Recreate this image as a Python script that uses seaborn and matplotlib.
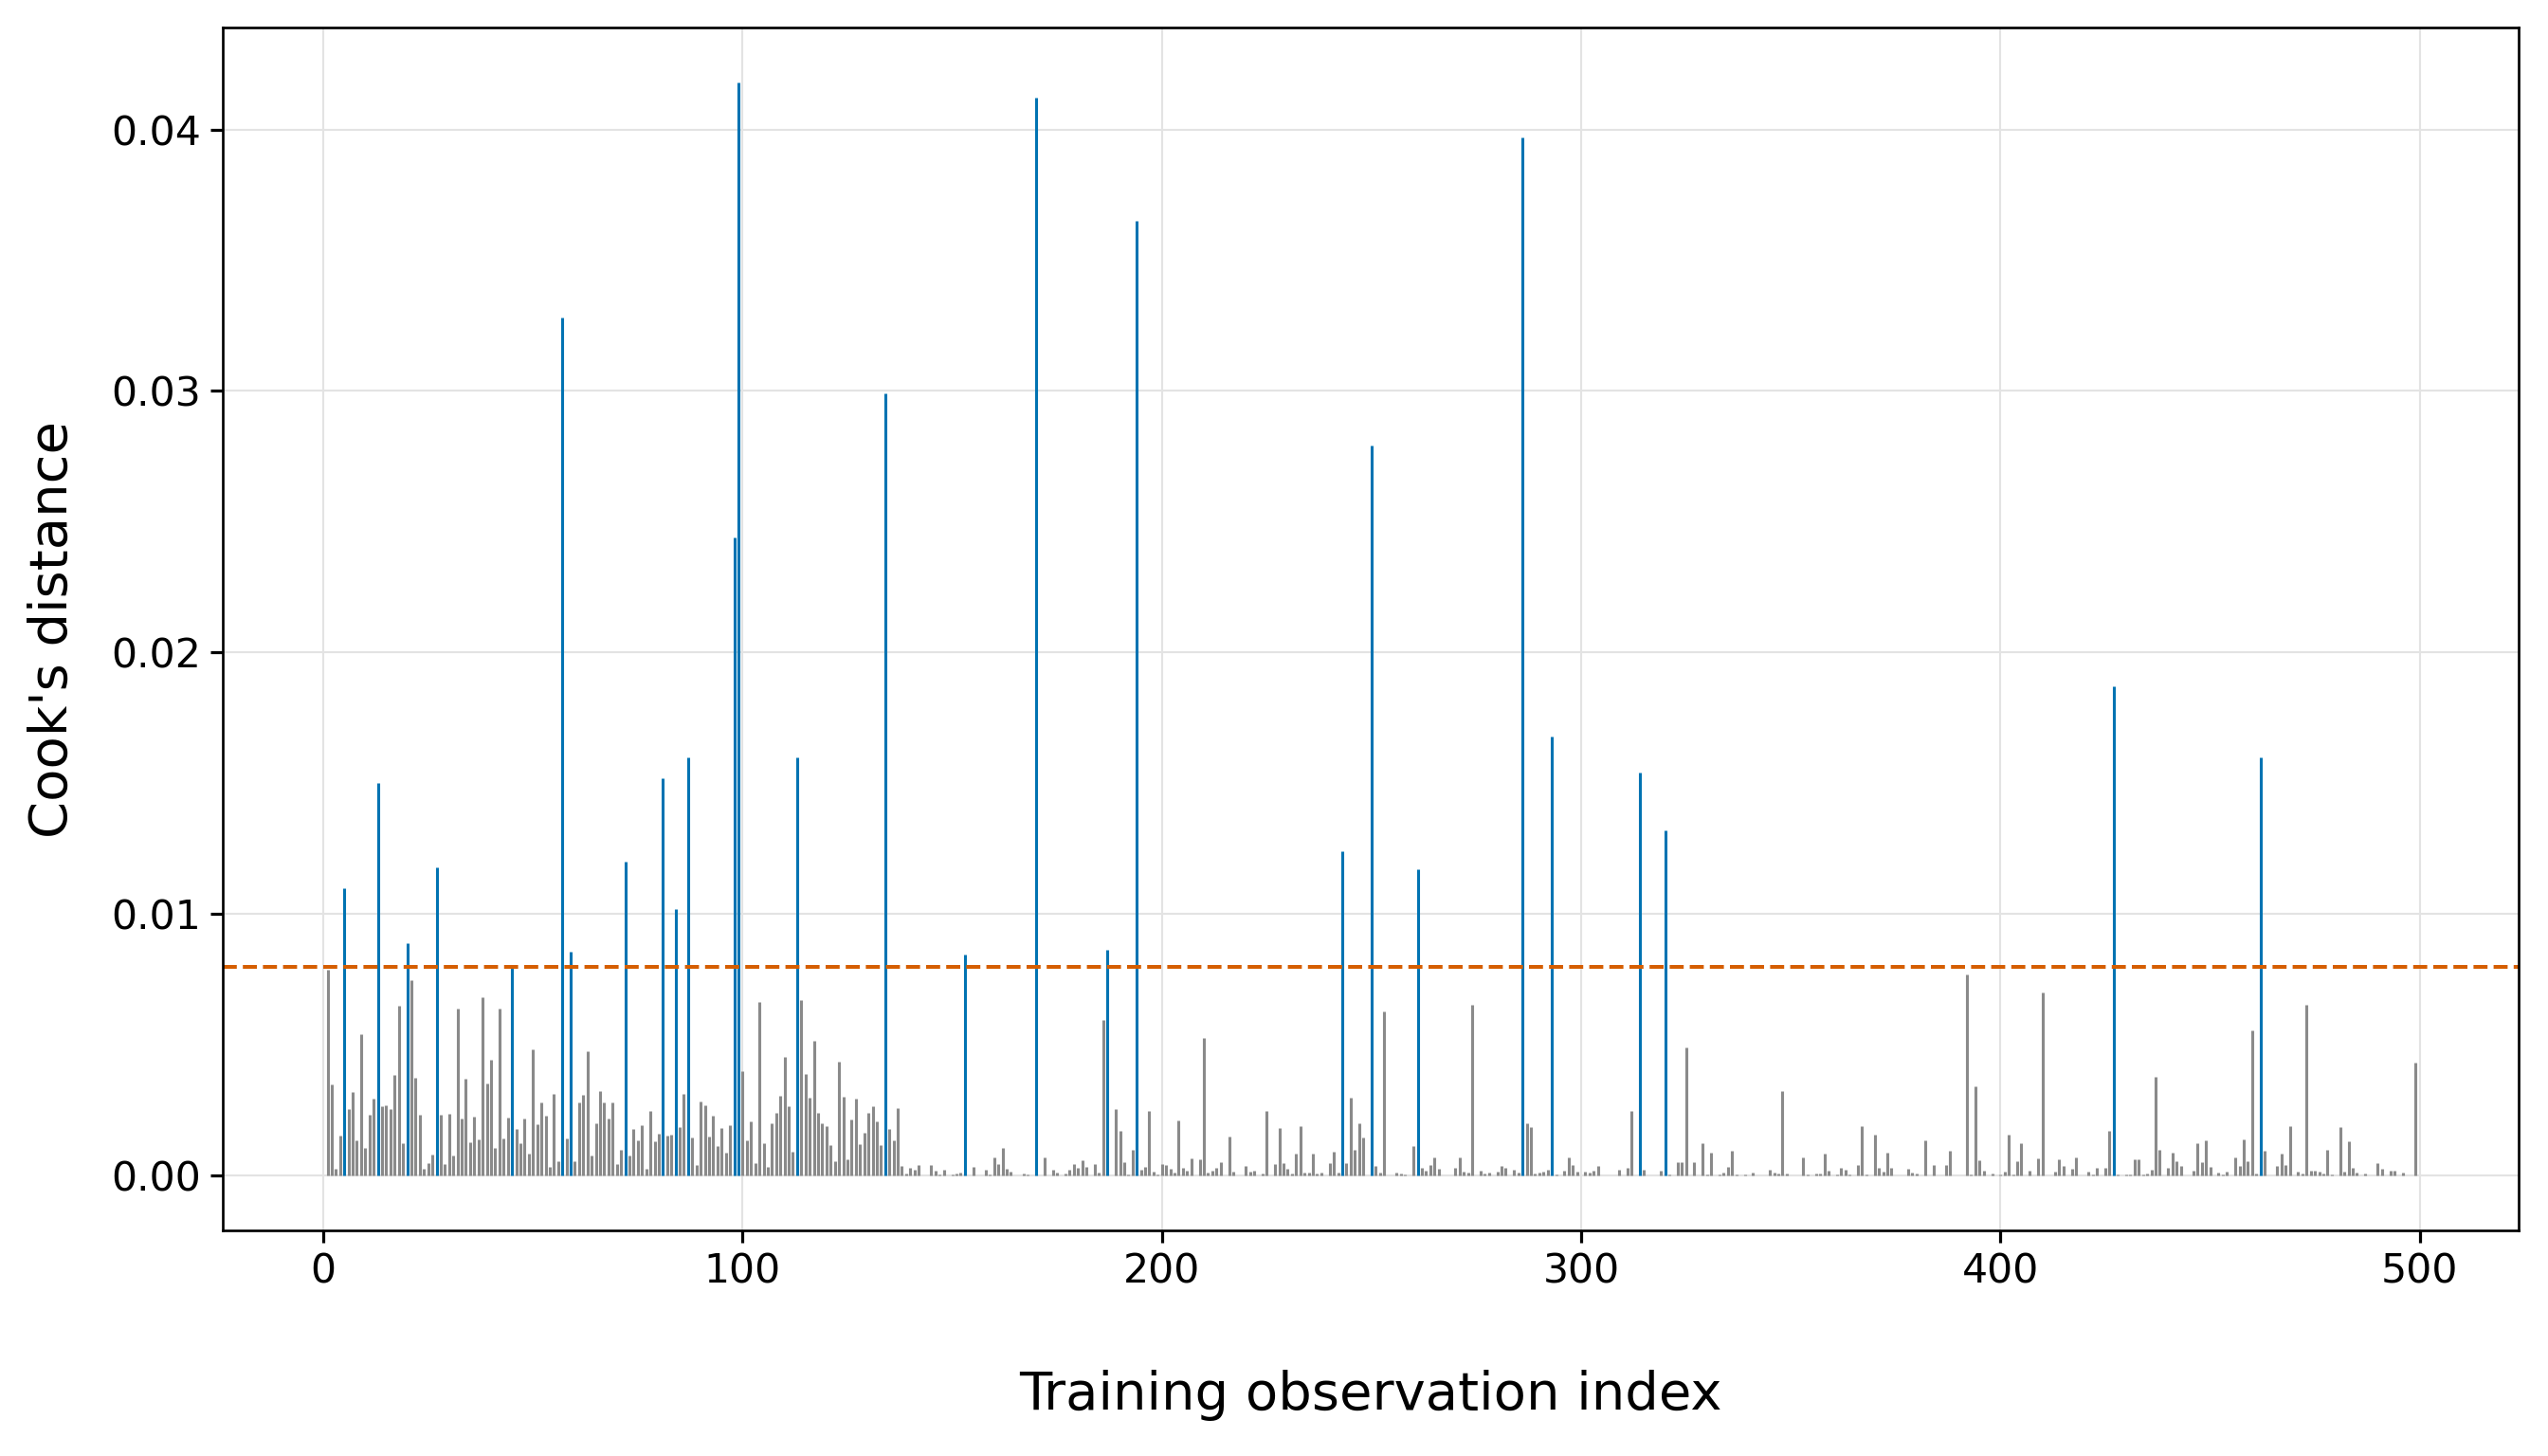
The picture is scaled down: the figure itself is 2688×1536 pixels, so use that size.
import numpy as np
import pandas as pd
import matplotlib
matplotlib.use("Agg")
import matplotlib.pyplot as plt
import seaborn as sns

# Cook's distance per training observation
cooks_d = [
    0.00002, 0.00786, 0.00348, 0.00027, 0.00153, 0.0110, 0.00254, 0.00319, 0.00135, 0.0054,
    0.00106, 0.00233, 0.00294, 0.0150, 0.00265, 0.00269, 0.00254, 0.00384, 0.00648, 0.00124,
    0.00887, 0.00746, 0.00373, 0.00233, 0.00027, 0.00048, 0.00081, 0.0118, 0.00233, 0.00045,
    0.00236, 0.00077, 0.00637, 0.00218, 0.0037, 0.00128, 0.00225, 0.00139, 0.00684, 0.00352,
    0.00442, 0.00106, 0.00637, 0.00142, 0.00222, 0.00806, 0.00178, 0.00124, 0.00218, 0.00084,
    0.00482, 0.00196, 0.0028, 0.00229, 0.00034, 0.00312, 0.00055, 0.0328, 0.00142, 0.00858,
    0.00055, 0.0028, 0.00308, 0.00475, 0.00077, 0.0020, 0.00323, 0.0028, 0.00218, 0.0028,
    0.00045, 0.00099, 0.0120, 0.00077, 0.00178, 0.00135, 0.00193, 0.00027, 0.00247, 0.00131,
    0.0016, 0.0152, 0.00153, 0.00157, 0.0102, 0.00186, 0.00312, 0.0160, 0.00146, 0.00041,
    0.00283, 0.00269, 0.00149, 0.00229, 0.00113, 0.00182, 0.00088, 0.00193, 0.0244, 0.0418,
    0.00399, 0.00135, 0.00207, 0.00048, 0.00663, 0.00124, 0.00034, 0.0020, 0.0024, 0.00305,
    0.00453, 0.00265, 0.00092, 0.0160, 0.00673, 0.00388, 0.00298, 0.00514, 0.0024, 0.0020,
    0.00189, 0.00117, 0.00055, 0.00435, 0.00301, 0.00063, 0.00214, 0.00294, 0.0012, 0.00164,
    0.0024, 0.00265, 0.00207, 0.00117, 0.0299, 0.00178, 0.00135, 0.00258, 0.00037, 0.00008,
    0.0003, 0.00023, 0.00041, 0.00002, 0.00002, 0.00041, 0.00019, 0.00005, 0.00023, 0.00002,
    0.00005, 0.00008, 0.00012, 0.00847, 0.00002, 0.00034, 0.00002, 0.00002, 0.00023, 0.00005,
    0.0007, 0.00045, 0.00106, 0.00027, 0.00016, 0.00002, 0.00002, 0.00008, 0.00005, 0.00002,
    0.0412, 0.00002, 0.0007, 0.00002, 0.00023, 0.00012, 0.00002, 0.00008, 0.00023, 0.00045,
    0.0003, 0.00059, 0.00034, 0.00002, 0.00045, 0.00012, 0.00594, 0.00865, 0.00002, 0.00254,
    0.00171, 0.00052, 0.00005, 0.00099, 0.0365, 0.00023, 0.00034, 0.00247, 0.00016, 0.00005,
    0.00045, 0.00041, 0.00027, 0.00012, 0.00211, 0.0003, 0.00019, 0.00066, 0.00002, 0.00063,
    0.00525, 0.00012, 0.00019, 0.0003, 0.00052, 0.00002, 0.00149, 0.00016, 0.00002, 0.00002,
    0.00037, 0.00016, 0.00019, 0.00002, 0.00008, 0.00247, 0.00002, 0.00045, 0.00182, 0.00048,
    0.00027, 0.00008, 0.00084, 0.00189, 0.00012, 0.00012, 0.00084, 0.00008, 0.00012, 0.00002,
    0.00048, 0.00092, 0.00012, 0.0124, 0.00048, 0.00298, 0.00099, 0.0020, 0.00146, 0.00002,
    0.0279, 0.00037, 0.00012, 0.00627, 0.00002, 0.00002, 0.00012, 0.00008, 0.00005, 0.00002,
    0.00113, 0.0117, 0.0003, 0.00019, 0.00041, 0.0007, 0.00027, 0.00002, 0.00002, 0.00002,
    0.0003, 0.0007, 0.00016, 0.00012, 0.00655, 0.00002, 0.00019, 0.00008, 0.00012, 0.00002,
    0.00016, 0.00037, 0.0003, 0.00002, 0.00023, 0.00012, 0.0397, 0.0020, 0.00186, 0.00008,
    0.00012, 0.00016, 0.00023, 0.0168, 0.00005, 0.00002, 0.00019, 0.0007, 0.00041, 0.00016,
    0.00002, 0.00016, 0.00012, 0.00019, 0.00037, 0.00002, 0.00002, 0.00002, 0.00002, 0.00023,
    0.00002, 0.0003, 0.00247, 0.00002, 0.0154, 0.00023, 0.00002, 0.00002, 0.00002, 0.00019,
    0.0132, 0.00005, 0.00002, 0.00052, 0.00052, 0.00489, 0.00002, 0.00052, 0.00002, 0.00124,
    0.00005, 0.00088, 0.00002, 0.00005, 0.00012, 0.00034, 0.00095, 0.00005, 0.00002, 0.00005,
    0.00002, 0.00012, 0.00002, 0.00002, 0.00002, 0.00023, 0.00012, 0.00008, 0.00323, 0.00008,
    0.00002, 0.00002, 0.00002, 0.0007, 0.00005, 0.00002, 0.00008, 0.00008, 0.00084, 0.00019,
    0.00002, 0.00005, 0.0003, 0.00023, 0.00005, 0.00002, 0.00041, 0.00189, 0.00005, 0.00002,
    0.00157, 0.0003, 0.00016, 0.00088, 0.0003, 0.00002, 0.00002, 0.00002, 0.00027, 0.00012,
    0.00008, 0.00002, 0.00135, 0.00002, 0.00041, 0.00002, 0.00002, 0.00041, 0.00095, 0.00002,
    0.00002, 0.00002, 0.00771, 0.00005, 0.00341, 0.00059, 0.00019, 0.00002, 0.00008, 0.00002,
    0.00005, 0.00016, 0.00157, 0.00005, 0.00055, 0.00124, 0.00002, 0.00019, 0.00002, 0.00066,
    0.00702, 0.00002, 0.00002, 0.00016, 0.00063, 0.00037, 0.00002, 0.00027, 0.0007, 0.00002,
    0.00002, 0.00016, 0.00005, 0.0003, 0.00002, 0.0003, 0.00171, 0.0187, 0.00005, 0.00002,
    0.00005, 0.00005, 0.00063, 0.00063, 0.00005, 0.00008, 0.00023, 0.00377, 0.00099, 0.00002,
    0.0003, 0.00088, 0.00055, 0.00037, 0.00002, 0.00002, 0.00019, 0.00124, 0.00052, 0.00135,
    0.00034, 0.00002, 0.00012, 0.00005, 0.00016, 0.00002, 0.0007, 0.00037, 0.00139, 0.00055,
    0.00554, 0.00008, 0.0160, 0.00095, 0.00002, 0.00002, 0.00037, 0.00084, 0.00041, 0.00189,
    0.00002, 0.00016, 0.00008, 0.00655, 0.00019, 0.00019, 0.00016, 0.00008, 0.00099, 0.00005,
    0.00002, 0.00186, 0.00016, 0.00131, 0.0003, 0.00012, 0.00002, 0.00008, 0.00002, 0.00002,
    0.00048, 0.00027, 0.00002, 0.00019, 0.00019, 0.00002, 0.00012, 0.00002, 0.00002, 0.00431,
]

df = pd.DataFrame({"idx": np.arange(len(cooks_d)), "cooks_d": cooks_d})
threshold = 4 / len(df)
df["influential"] = df["cooks_d"] > threshold

sns.set_theme(style="whitegrid", rc={
    "axes.edgecolor": "black",
    "axes.linewidth": 1.0,
    "axes.labelcolor": "black",
    "text.color": "black",
    "grid.color": "#e3e3e3",
    "grid.linewidth": 0.8,
    "xtick.bottom": True,
    "ytick.left": True,
    "xtick.color": "black",
    "ytick.color": "black",
})
plt.rcParams["font.family"] = ["DejaVu Sans"]

pal = sns.color_palette("colorblind")

fig, ax = plt.subplots(figsize=(14, 8), dpi=192)
fig.subplots_adjust(left=0.0874, right=0.9885, top=0.981, bottom=0.155)

normal = df[~df["influential"]]
flagged = df[df["influential"]]
ax.vlines(normal["idx"], 0, normal["cooks_d"], color="#8a8a8a", linewidth=1.15)
ax.vlines(flagged["idx"], 0, flagged["cooks_d"], color=pal[0], linewidth=1.15)
ax.axhline(threshold, color=pal[3], linestyle="--", linewidth=1.5)

ax.set_xlim(-24, 523.6)
ax.margins(y=0.05)
ax.tick_params(axis="both", labelsize=16, length=5, width=1.2)
ax.set_xlabel("Training observation index", fontsize=21, labelpad=31)
ax.set_ylabel("Cook's distance", fontsize=21, labelpad=13)
ax.set_yticks([0, 0.01, 0.02, 0.03, 0.04])
ax.yaxis.set_major_formatter(matplotlib.ticker.FormatStrFormatter("%.2f"))
ax.set_axisbelow(True)

fig.savefig("out.png", dpi=192)
